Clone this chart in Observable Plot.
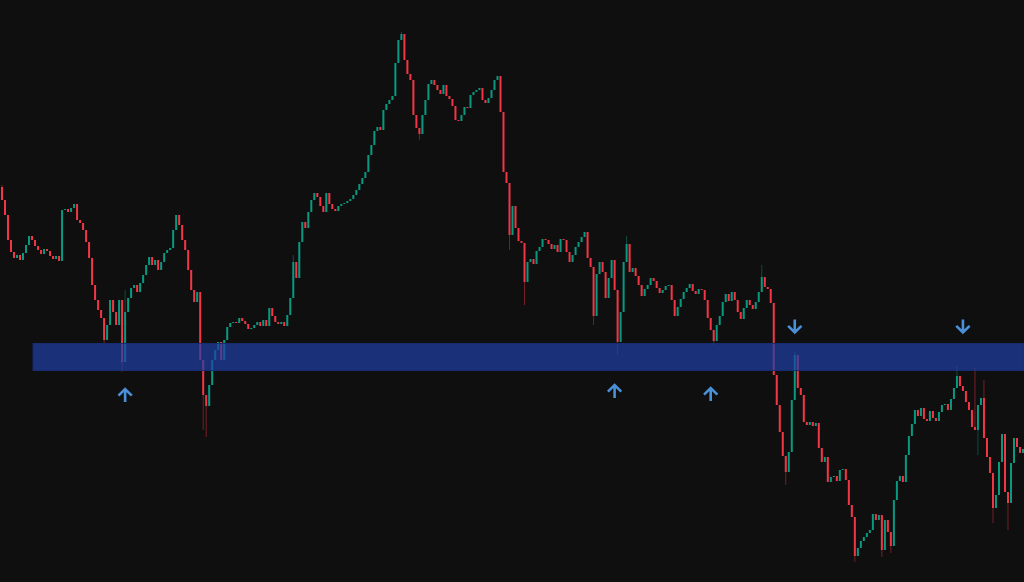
<!DOCTYPE html>
<html>
<head>
<meta charset="utf-8">
<script src="https://cdn.jsdelivr.net/npm/d3@7"></script>
<script src="https://cdn.jsdelivr.net/npm/@observablehq/plot@0.6"></script>
<style>
html, body { margin: 0; padding: 0; background: #0f0f0f; overflow: hidden; }
#chart svg { display: block; }
</style>
</head>
<body>
<div id="chart"></div>
<script>
// ---- data (price units) ----
const firstOpen = 413;
const closes = [
  400,385,360,348,342,345,340,347,355,364,
  360,354,350,346,351,349,344,341,344,339,
  390,391,388,392,396,380,377,370,358,342,
  315,300,290,282,260,275,300,288,275,300,
  238,288,302,312,315,308,317,325,335,343,
  335,340,330,338,347,350,352,370,385,375,
  360,350,330,310,298,308,240,205,194,215,
  240,250,258,240,260,273,277,278,277,282,
  279,276,271,272,275,278,274,280,274,292,
  284,278,276,278,274,285,302,338,322,358,
  378,372,388,400,407,403,394,388,407,396,
  391,389,394,396,397,399,401,405,410,416,
  422,428,445,455,469,473,470,490,496,500,
  504,537,560,566,540,526,520,485,472,466,
  485,500,516,520,515,510,506,515,504,501,
  494,480,479,485,493,492,505,508,510,512,
  500,497,502,510,520,524,488,428,417,365,
  394,372,359,357,318,338,341,336,349,353,
  361,360,356,351,355,348,361,360,348,338,
  345,353,358,363,368,342,333,284,326,338,
  328,302,322,340,310,258,288,338,356,328,
  332,324,315,304,311,315,322,319,312,307,
  310,314,315,300,284,293,301,308,312,316,
  309,306,311,310,300,282,270,259,275,284,
  298,306,299,308,300,288,281,292,300,295,
  291,298,308,323,313,311,297,225,195,168,
  144,128,148,200,245,212,205,178,175,178,
  174,177,152,138,143,118,123,124,119,130,
  131,120,95,83,44,52,59,63,67,70,
  86,80,85,50,80,68,54,100,119,124,
  118,145,164,176,190,184,192,181,179,189,
  182,179,188,195,196,190,201,212,224,214,
  209,198,190,173,170,195,202,162,143,127,
  92,105,138,166,108,97,137,162,153,147,151
];
// long wicks: [candle index, price]
const wickHighs = [[0,415],[41,310],[97,345],[133,568],[208,364],[253,335],[264,248],[318,234],[324,232],[327,220]];
const wickLows  = [[34,257],[40,228],[67,170],[68,163],[139,460],[169,350],[174,295],[197,275],[205,245],[237,255],[261,115],[284,38],[293,43],[296,47],[325,145],[330,77],[335,70]];
// support / resistance zone
const zoneStartIndex = 11;
const zoneLow = 229.5;
const zoneHigh = 256.5;
// touch markers
const arrowIndex = [41, 204, 236, 264, 320];
const arrowPrice = [205, 209, 206, 274.5, 274.5];
const arrowDir   = ["up", "up", "up", "down", "down"];

// ---- build ----
const upColor = "#089981";
const downColor = "#f23645";
const hiMap = new Map(wickHighs);
const loMap = new Map(wickLows);
const candles = closes.map((c, i) => {
  const o = i === 0 ? firstOpen : closes[i - 1];
  const h = Math.max(o, c, hiMap.get(i) ?? -Infinity);
  const l = Math.min(o, c, loMap.get(i) ?? Infinity);
  return {i, open: o, close: c, high: h, low: l, color: c >= o ? upColor : downColor};
});
const zone = [{start: zoneStartIndex, end: closes.length, low: zoneLow, high: zoneHigh}];
const arrows = arrowIndex.map((i, k) => ({i, price: arrowPrice[k], dir: arrowDir[k]}));

const chart = Plot.plot({
  width: 1024,
  height: 582,
  margin: 0,
  style: {background: "#0f0f0f"},
  x: {domain: [0, closes.length], axis: null},
  y: {domain: [18, 600], axis: null},
  color: {type: "identity"},
  marks: [
    Plot.ruleX(candles, {x: d => d.i + 0.5, y1: "low", y2: "high", stroke: "color", strokeOpacity: 0.45, strokeWidth: 1}),
    Plot.ruleX(candles, {x: d => d.i + 0.5, y1: "open", y2: "close", stroke: "color", strokeWidth: 2}),
    Plot.rect(zone, {x1: "start", x2: "end", y1: "low", y2: "high", fill: "#2040a8", fillOpacity: 0.7, stroke: "#182c70", strokeWidth: 1}),
    Plot.vector(arrows, {
      x: d => d.i + 0.5, y: "price",
      rotate: d => d.dir === "up" ? 0 : 180,
      length: 13, r: 9, anchor: "middle",
      stroke: "#4a90d9", strokeWidth: 2.6, strokeLinejoin: "miter", strokeLinecap: "butt"
    })
  ]
});
document.getElementById("chart").append(chart);
</script>
</body>
</html>
